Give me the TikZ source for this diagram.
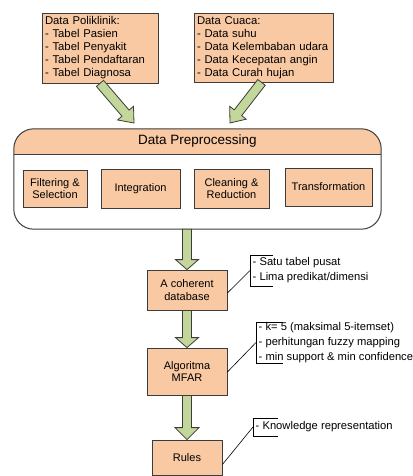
\documentclass[tikz,border=0pt]{standalone}
\usepackage{fontspec}
\setmainfont{Liberation Sans}
\usetikzlibrary{calc}
\definecolor{peach}{HTML}{F9C9A3}
\definecolor{leaf}{HTML}{C4D79B}
\definecolor{edge}{HTML}{3C3C3C}
\tikzset{
  box/.style={draw=edge, fill=peach, line width=0.8pt, inner sep=2pt, align=center,
    font=\fontsize{11}{12.5}\selectfont},
  listbox/.style={box, align=left, text width=#1, inner xsep=3pt,
    font=\fontsize{11.3}{13}\selectfont},
  barrow/.style={draw=edge, fill=leaf, line width=0.8pt, line join=miter},
  note/.style={align=left, inner xsep=2.5pt, inner ysep=0pt, anchor=west,
    font=\fontsize{11.2}{15}\selectfont},
  bracket/.style={draw=black, line width=0.6pt},
  leader/.style={draw=black, line width=0.6pt},
}
% #1 start, #2 tip, #3 shaft half width, #4 head half width, #5 head length
\newcommand\blockarrow[5]{%
  \coordinate (bah) at ($(#2)!#5!(#1)$);
  \path[barrow] ($(#1)!#3!90:(#2)$) -- ($(bah)!#3!90:(#2)$) -- ($(bah)!#4!90:(#2)$)
    -- (#2) -- ($(bah)!#4!-90:(#2)$) -- ($(bah)!#3!-90:(#2)$) -- ($(#1)!#3!-90:(#2)$) -- cycle;
}
\begin{document}
\begin{tikzpicture}[x=1pt,y=-1pt]
\useasboundingbox (0,0) rectangle (412,476);

% source boxes
\node[listbox=110pt, minimum height=70pt] (p1) at (100,48)
  {Data Poliklinik:\\- Tabel Pasien\\- Tabel Penyakit\\- Tabel Pendaftaran\\- Tabel Diagnosa};
\node[listbox=133pt, minimum height=69pt] (p2) at (263.5,47.5)
  {Data Cuaca:\\- Data suhu\\- Data Kelembaban udara\\- Data Kecepatan angin\\- Data Curah hujan};

% preprocessing container
\node[minimum width=367pt, minimum height=100pt, inner sep=0pt] (pre) at (197.5,179) {};
\coordinate (hl) at (0,154);
\begin{scope}
  \clip[rounded corners=20pt] (pre.south west) rectangle (pre.north east);
  \fill[peach] (pre.north west) rectangle (pre.east |- hl);
\end{scope}
\draw[edge, line width=1pt, rounded corners=20pt] (pre.south west) rectangle (pre.north east);
\draw[edge, line width=1pt] (pre.west |- hl) -- (pre.east |- hl);
\node[font=\fontsize{13.5}{16}\selectfont, inner sep=0pt] (title) at (197.5,141.5) {Data Preprocessing};

\node[box, minimum width=64pt, minimum height=37pt] (fs) at (55,188.5) {Filtering \&\\Selection};
\node[box, minimum width=79pt, minimum height=39pt] (int) at (140.5,188.5) {Integration};
\node[box, minimum width=75pt, minimum height=39pt] (cr) at (231.5,188.5) {Cleaning \&\\Reduction};
\node[box, minimum width=87pt, minimum height=38pt] (tr) at (328.5,187) {Transformation};

% diagonal arrows into preprocessing
\coordinate (t1) at (134,123);
\coordinate (t2) at (230,123);
\coordinate (s2) at ($(p2.south)+(-2,0)$);
\blockarrow{p1.south}{t1}{4.7pt}{10.5pt}{13pt}
\blockarrow{s2}{t2}{4.7pt}{10.5pt}{13pt}

% main column
\node[box, minimum width=80pt, minimum height=40pt] (coh) at (187,290) {A coherent\\database};
\node[box, minimum width=80pt, minimum height=47pt] (alg) at (187,371.5) {Algoritma\\MFAR};
\node[box, minimum width=70pt, minimum height=35pt] (rules) at (187,457.5) {Rules};

\coordinate (v1) at (coh.north |- pre.south);
\blockarrow{v1}{coh.north}{4.5pt}{11.5pt}{10pt}
\blockarrow{coh.south}{alg.north}{4.5pt}{11.5pt}{10pt}
\blockarrow{alg.south}{rules.north}{4.5pt}{12pt}{12pt}

% notes
\node[note, minimum height=31pt] (n1) at (250,270.5)
  {- Satu tabel pusat\\- Lima predikat/dimensi};
\node[note, minimum height=41pt] (n2) at (256,342.5)
  {- k= 5 (maksimal 5-itemset)\\- perhitungan fuzzy mapping\\- min support \& min confidence};
\node[note, minimum height=18pt] (n3) at (253,427)
  {- Knowledge representation};

\foreach \n/\w in {n1/23pt, n2/27pt, n3/25pt}{
  \draw[bracket] ($(\n.north west)+(\w,0)$) -- (\n.north west) -- (\n.south west) -- ++(\w,0);
}
\draw[leader] ($(coh.east)+(0,3)$) -- (n1.west);
\draw[leader] ($(alg.east)+(0,0.5)$) -- (n2.west);
\draw[leader] ($(rules.east)+(0,7)$) -- (n3.west);
\end{tikzpicture}
\end{document}
